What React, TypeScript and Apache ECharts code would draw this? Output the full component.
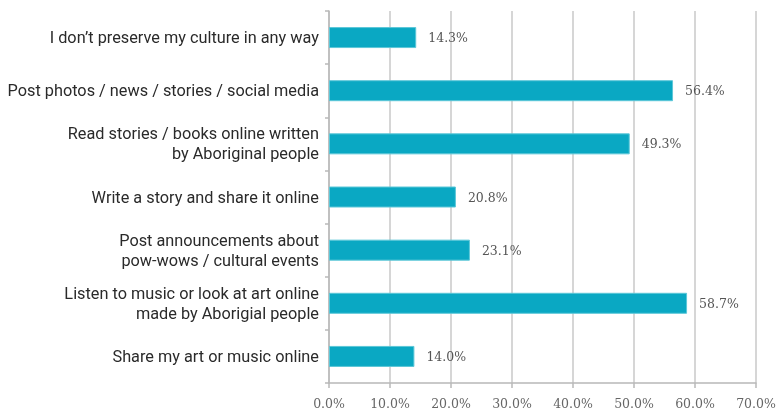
import React, { useEffect, useRef } from "react";
import * as echarts from "echarts";

const categories = [
  "I don\u2019t preserve my culture in any way",
  "Post photos / news / stories / social media",
  "Read stories / books online written\nby Aboriginal people",
  "Write a story and share it online",
  "Post announcements about\npow-wows / cultural events",
  "Listen to music or look at art online\nmade by Aborigial people",
  "Share my art or music online",
];
const values = [14.3, 56.4, 49.3, 20.8, 23.1, 58.7, 14.0];

export default function App() {
  const ref = useRef<HTMLDivElement>(null);
  useEffect(() => {
    const chart = echarts.init(ref.current!, null, { renderer: "svg" });
    chart.setOption({
      animation: false,
      grid: {
        left: 329,
        right: 24,
        top: 11,
        bottom: 31,
        containLabel: false,
        outerBoundsMode: "none",
      },
      xAxis: {
        type: "value",
        min: 0,
        max: 70,
        interval: 10,
        axisLine: { show: true, lineStyle: { color: "#b8b8b8", width: 1.5 } },
        axisTick: { show: true, length: 5, lineStyle: { color: "#b8b8b8", width: 1.5 } },
        splitLine: { show: true, lineStyle: { color: "#c8c8c8", width: 1.5 } },
        axisLabel: {
          formatter: (v: number) => v.toFixed(1) + "%",
          fontFamily: "DejaVu Serif, Liberation Serif, serif",
          fontSize: 12.5,
          color: "#666",
          margin: 14,
        },
      },
      yAxis: {
        type: "category",
        data: categories,
        inverse: true,
        axisLine: { show: true, lineStyle: { color: "#b8b8b8", width: 1.5 } },
        axisTick: { show: true, length: 4, lineStyle: { color: "#b8b8b8", width: 1.5 } },
        axisLabel: {
          fontFamily: "Roboto, sans-serif",
          fontSize: 16.3,
          color: "#2a2a2a",
          margin: 10,
          lineHeight: 20,
        },
      },
      series: [
        {
          type: "bar",
          data: values,
          barWidth: 21,
          itemStyle: { color: "#0aa8c3", borderColor: "#5cc7d8", borderWidth: 1 },
          label: {
            show: true,
            position: "right",
            distance: 12,
            formatter: (p: any) => p.value.toFixed(1) + "%",
            fontFamily: "DejaVu Serif, Liberation Serif, serif",
            fontSize: 12.5,
            color: "#555",
          },
        },
      ],
    });
    return () => chart.dispose();
  }, []);
  return (
    <div
      ref={ref}
      style={{ position: "fixed", left: 0, top: 0, width: 780, height: 414 }}
    />
  );
}
